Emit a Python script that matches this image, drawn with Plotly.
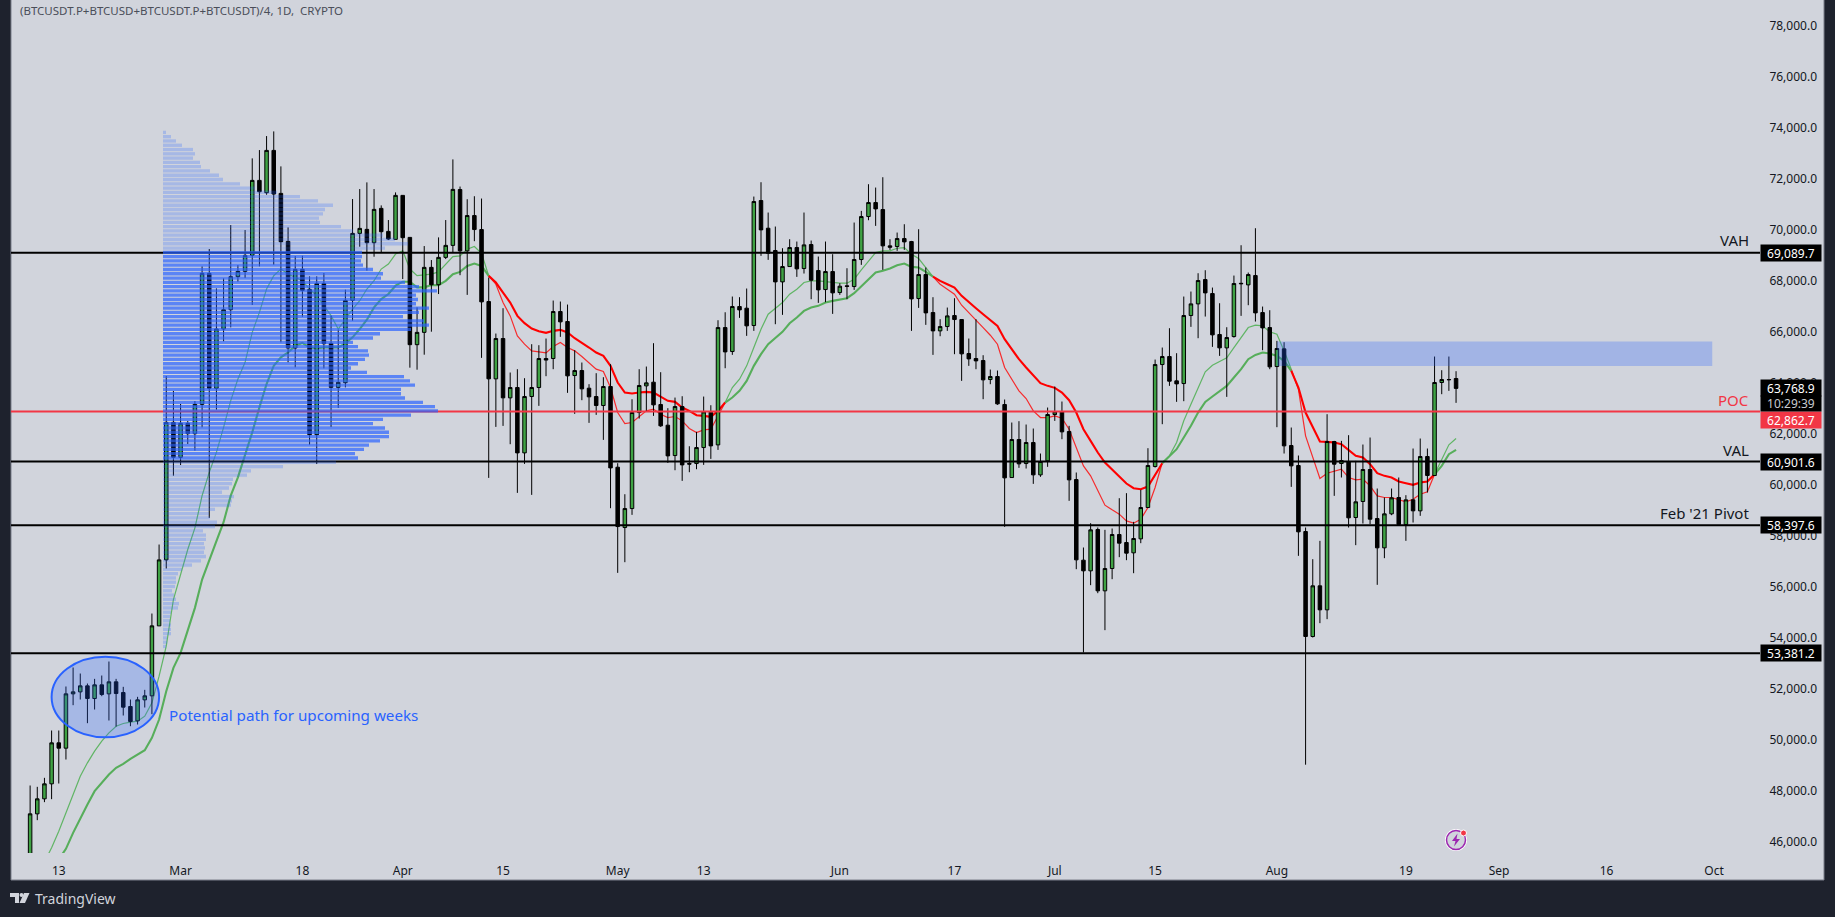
import pandas as pd
import plotly.graph_objects as go

# ---------- data ----------
first_candle = "2024-02-09"
last_candle = "2024-08-26"

opens = [
 45300,47085,47673,48261,49869,49660,51790,51868,52104,51607,52143,51790,52261,51842,51293,50732,51555,51712,54456,57044,62437,
 61065,62398,61993,63143,68279,63770,66097,66855,68149,68358,68985,71926,71442,73102,71416,69534,65352,68436,67652,61953,67887,65535,63809,63993,67221,69848,70005,69482,70828,69926,69613,
 71338,69691,65483,65966,68515,67835,68907,69377,71567,69162,70547,69998,67175,64143,65724,63398,63803,61240,63450,63803,64940,64940,66783,66391,64273,64469,63777,63450,63097,63842,
 60678,58312,59057,62821,63868,64012,63136,62325,61135,63057,60822,60822,61449,62834,61553,66154,65214,66979,66914,66234,71135,70050,69175,67946,68547,69292,68469,69410,68390,67645,68351,
 67528,67790,67763,68822,70508,71057,70782,69358,69332,69645,69527,67292,68233,66743,66024,66194,66626,66469,65136,64940,64861,64116,64234,63136,60273,61763,60822,61646,60378,60927,
 62744,62848,62077,60195,57032,56614,58235,55830,56705,58039,57725,57320,57869,59097,60705,64704,65018,64064,63959,66626,67083,68037,67488,65881,65358,65802,67890,67828,68194,66743,66155,
 64626,65319,61528,60744,58156,54039,56026,55085,61685,60823,60901,58705,59333,60587,58666,57516,58849,59490,58431,59398,58967,61097,60352,64000,64116,64156]
highs = [
 48196,48144,48497,50353,50353,52078,52823,52587,52195,52378,52509,53058,52378,52065,51568,51673,51947,54940,57646,64254,63666,
 63156,62489,63273,68554,69234,67691,68083,70175,68606,69979,72789,73115,73664,73847,72475,70083,68959,68972,68162,68162,68293,66620,66071,67639,71194,71586,71848,71586,70946,70371,71455,
 71351,69704,66946,69351,68802,69691,70371,72749,71684,71187,71305,71214,68116,65920,66914,64391,64522,64169,65502,65463,65724,67214,67175,67057,65267,64783,63934,64365,64208,64718,
 60835,59619,63344,64522,64626,65541,64404,62993,63409,63462,61501,62063,63449,63109,66442,66755,67371,67345,67685,71292,71854,70665,70116,69266,69619,69528,70665,69567,68939,69528,69031,
 67894,68482,70273,70730,71776,71645,72050,69619,69880,70207,69553,70011,68508,67345,66482,66939,67305,66482,65724,66482,65070,64508,64469,63332,62430,62483,62352,62195,61215,63018,
 63842,63254,62300,60470,57529,58483,58313,58222,58274,59463,59660,58535,59790,61424,64900,65371,66129,65149,67371,67567,68285,68403,67723,67109,66168,68194,69383,68312,70050,66978,66835,
 65632,65580,62234,61136,58313,57071,57790,62757,61711,61711,61934,60927,61568,61842,59842,59490,59842,60274,59581,61411,61803,61411,65018,64482,65018,64443]
lows = [
 45200,46837,47543,47660,48274,49215,51346,51568,50640,51176,51699,50745,50509,50941,50522,50588,51255,50993,54456,56705,60346,
 60764,61588,61326,62241,58691,62934,65613,66162,67953,68096,67038,68554,71364,68619,65574,64790,64594,66580,61561,60803,64554,62254,62999,63809,66423,69325,68384,68933,69103,69586,69613,
 68057,64581,64502,65090,65992,67469,68841,69103,68208,67436,69541,64966,60259,62259,62298,61580,59671,60808,59593,63084,64247,64522,65790,63594,62770,63306,62417,62731,61749,59070,
 56535,56953,58809,62586,62875,62691,62259,60848,60560,60142,60482,60599,60769,61004,61357,64560,65084,66534,65829,66025,68966,68809,66286,66652,68547,68142,68273,67266,67123,67149,66691,
 67436,67266,67632,68613,70364,70142,68417,69201,69162,69200,66024,66926,66260,65083,65815,66024,65110,64064,64652,64521,63345,63933,63123,58340,60273,60653,60626,60025,60300,60692,
 62495,61776,59359,56679,53412,56052,55738,54288,56287,57150,57032,56522,57699,59097,60666,62365,63868,63241,63267,66181,65737,66586,65397,65044,63437,65760,66613,67031,66390,65266,64521,
 62247,61215,59907,57202,49012,54000,54562,54719,59555,60274,58313,57621,58470,58444,56065,57111,58797,58418,57790,58509,58771,59686,60340,63541,63672,63202]
closes = [
 47085,47673,48261,49869,49660,51790,51868,52104,51607,52143,51764,52261,51803,51268,50706,51555,51712,54456,57044,62437,61065,
 62398,61993,63143,68279,63770,66097,66855,68149,68358,68985,71926,71481,73102,71390,69521,65352,68436,67613,61953,67887,65522,63809,64006,67221,69848,70044,69482,70789,69913,69626,71338,
 69678,65483,65966,68515,67835,68907,69377,71573,69162,70547,69998,67162,64143,65724,63398,63803,61240,63450,63803,64940,64880,66783,66378,64260,64469,63751,63437,63097,63842,60651,
 58351,59057,62821,63881,63986,63123,62300,61122,63057,60769,60800,61449,62847,61514,66154,65200,66979,66848,66221,71096,69985,69070,67946,68547,69292,68456,69397,68011,67632,68351,67515,
 67776,67770,68822,70508,71057,70808,69358,69305,69645,69514,67279,68233,66730,66024,66194,66612,66469,65123,64926,64848,64103,64234,63162,60260,61763,60809,61646,60378,60901,62744,
 62848,62064,60182,57045,56614,58222,55830,56705,58039,57699,57307,57882,59097,60744,64704,65018,64051,63946,66626,67083,67998,67514,65868,65358,65763,67880,67875,68233,66730,66142,64613,
 65332,61515,60731,58143,54039,56026,55085,61685,60796,60940,58692,59320,60587,58640,57516,58849,59477,58431,59398,58967,61097,60352,64000,64116,64110,63769]

fast_start = "2024-02-11"
fast_ema = [
 45200,45752,46405,47124,47908,48562,49085,49542,49934,50261,50522,50627,50679,50718,50915,51437,52483,53659,55489,
 56469,57450,58300,59560,60476,61261,62241,63287,64136,64790,65966,66750,67665,68188,68449,68253,68122,67992,67665,67404,67012,66620,66097,66489,66881,67208,67665,67992,68449,68646,69037,
 69168,68449,68188,68214,68253,68338,68639,68939,68966,69227,69332,69070,68181,67855,67136,66613,65829,65502,65241,65201,65162,65410,65567,65371,65241,65018,64783,64522,64430,63803,
 62823,62391,62431,62666,62888,62953,62757,62627,62666,62496,62195,62038,62143,62169,62692,63215,63803,64130,64653,65371,66090,66678,66900,67136,67463,67659,67920,67985,67985,67946,67920,
 67894,67894,68051,68417,68769,69096,69162,69162,69266,69292,69030,68860,68508,68155,67854,67658,67462,67031,66743,66482,66155,65854,65502,64587,64130,63672,63371,62887,62626,62626,
 62691,62600,62169,61450,60731,60339,59751,59189,59006,58836,58574,58483,58640,59097,59882,60862,61123,61646,62497,63149,63802,64417,64678,64809,64966,65371,65763,66155,66247,66220,65985,
 65894,65240,64521,63737,61907,61058,60234,60444,60535,60600,60274,60182,60208,59947,59555,59490,59490,59398,59320,59424,59620,59712,60404,60966,61555,61803]
slow_start = "2024-02-13"
slow_ema = [
 45300,45713,46340,46928,47451,47974,48300,48627,48889,49046,49242,49412,49582,50065,50784,51895,52810,
 53398,54247,55162,56273,57057,57776,58521,59562,60281,61130,62045,63025,63940,64659,64986,65182,65443,65548,65378,65339,65378,65378,65378,65535,65770,66097,66463,66946,67273,67469,67796,
 67953,67953,67731,67731,67822,67815,67985,68247,68338,68573,68665,68573,68181,67920,67528,67136,66613,66325,66116,66012,65946,66025,66064,65959,65737,65567,65372,65175,65045,64652,
 63999,63607,63568,63607,63633,63607,63450,63280,63241,63018,62888,62718,62692,62653,62888,63215,63411,63672,64064,64652,65110,65502,65737,65986,66325,66548,66809,66940,67005,67136,67201,
 67240,67306,67502,67763,68051,68312,68378,68469,68599,68665,68534,68508,68338,68155,67985,67854,67723,67397,67135,66913,66678,66456,66220,65698,65306,64913,64587,64260,63972,63868,
 63790,63607,63306,62822,62169,61711,61254,60862,60600,60339,60038,59855,59816,59920,60404,60836,61123,61385,61842,62300,62822,63240,63450,63672,63868,64195,64521,64913,65083,65175,65136,
 65044,64848,64456,63803,62822,62234,61685,61672,61646,61581,61359,61123,61058,60796,60444,60339,60274,60117,60052,59986,60078,60117,60404,60731,61189,61359]
trend_switches = ["2024-04-13", "2024-05-16", "2024-06-14", "2024-07-16", "2024-08-03", "2024-08-23"]

vp_top_price = 73808
vp_row_size = 168
vp_upper = [3,8,13,19,30,32,30,37,38,47,56,60,77,92,114,137,155,170,162,160,156,157,178,190,220,232,245,222]
vp_value_area = [199,199,198,200,210,220,218,242,256,274,253,255,253,266,256,240,261,266,248,217,210,
                 190,195,205,206,202,195,188,204,241,247,252,238,238,242,260,272,275,248,220,210,
                 222,226,226,217,206,201,192,195]
vp_lower = [173,120,88,84,70,69,66,59,71,69,68,52,46,47,54,52,40,43,43,41,42,41,43,38,29,19,15,13,13,12,9,11,13,16,15,8,7,7,8,8,8,4,4,3]

level_prices = [69089.7, 62862.7, 60901.6, 58397.6, 53381.2]
level_names = ["VAH", "POC", "VAL", "Feb '21 Pivot", ""]
level_labels = ["69,089.7", "62,862.7", "60,901.6", "58,397.6", "53,381.2"]
last_price = "63,768.9"
last_price_value = 63768.9
countdown = "10:29:39"

price_ticks = [46000,48000,50000,52000,54000,56000,58000,60000,62000,64000,66000,68000,70000,72000,74000,76000,78000]
date_ticks = ["2024-02-13","2024-03-01","2024-03-18","2024-04-01","2024-04-15","2024-05-01","2024-05-13","2024-06-01",
              "2024-06-17","2024-07-01","2024-07-15","2024-08-01","2024-08-19","2024-09-01","2024-09-16","2024-10-01"]
date_labels = ["13","Mar","18","Apr","15","May","13","Jun","17","Jul","15","Aug","19","Sep","16","Oct"]

title_text = "(BTCUSDT.P+BTCUSD+BTCUSDT.P+BTCUSDT)/4, 1D,  CRYPTO"
note_text = "Potential path for upcoming weeks"

# ---------- style ----------
FONT = "Noto Sans"
BG = "#d1d4dc"
DARK = "#1e222d"
TEXT = "#131722"
GREEN = "#3fa244"
BW, BH = 1835, 917
L, R, T, B = 11, 1760, 0, 853
XR = ["2024-02-06 08:00", "2024-10-07 10:00"]
YR = [45549, 79000]


def X(px):
    return (px - L) / (R - L)


def Y(py):
    return (B - py) / (B - T)


fig = go.Figure()

# moving averages sit under the candles
dates = pd.date_range(first_candle, last_candle)
sw = [pd.Timestamp(s) for s in trend_switches]
for start, vals, width, cg, cr in [
    (fast_start, fast_ema, 1.2, "rgba(76,175,80,0.85)", "rgba(255,0,0,0.8)"),
    (slow_start, slow_ema, 2.1, "#57ae5b", "#ff0000"),
]:
    s = pd.Series(vals, index=pd.date_range(start, periods=len(vals)))
    edges = [s.index[0]] + sw + [s.index[-1]]
    for i in range(len(edges) - 1):
        part = s[edges[i]:edges[i + 1]]
        fig.add_trace(go.Scatter(x=part.index, y=part.values, mode="lines", hoverinfo="skip",
                                 line=dict(color=cr if i % 2 else cg, width=width)))

fig.add_trace(go.Candlestick(
    x=dates, open=opens, high=highs, low=lows, close=closes, xaxis="x2", yaxis="y2", hoverinfo="skip",
    increasing=dict(line=dict(color="#000000", width=1), fillcolor=GREEN),
    decreasing=dict(line=dict(color="#000000", width=1), fillcolor="#000000"),
))

for price, name in zip(level_prices, level_names):
    fig.add_trace(go.Scatter(x=XR, y=[price, price], mode="lines", xaxis="x2", yaxis="y2", hoverinfo="skip",
                             line=dict(color="#f23645" if name == "POC" else "#000000", width=2)))

vp = vp_upper + vp_value_area + vp_lower
vp_y = [vp_top_price - vp_row_size * i for i in range(len(vp))]
vp_c = (["rgba(41,98,255,0.25)"] * len(vp_upper) + ["rgba(41,98,255,0.7)"] * len(vp_value_area)
        + ["rgba(41,98,255,0.25)"] * len(vp_lower))
fig.add_trace(go.Bar(y=vp_y, x=vp, orientation="h", xaxis="x3", yaxis="y3", width=130, hoverinfo="skip",
                     marker=dict(color=vp_c, line=dict(width=0))))

shapes = [
    dict(type="rect", xref="paper", yref="paper", layer="below", x0=X(11), x1=X(1824), y0=Y(880), y1=Y(-3),
         fillcolor=BG, line=dict(color="#7b7f8b", width=1)),
    dict(type="rect", xref="x", yref="y", x0="2024-08-01", x1="2024-09-30 18:00", y0=64646, y1=65603,
         fillcolor="rgba(41,98,255,0.28)", line=dict(width=0)),
    dict(type="circle", xref="x", yref="y", x0="2024-02-12", x1="2024-02-27", y0=50086, y1=53247,
         fillcolor="rgba(41,98,255,0.25)", line=dict(color="#2962ff", width=2)),
    # TradingView mark
    dict(type="path", xref="paper", yref="paper", fillcolor=BG, line=dict(width=0),
         path=f"M{X(10)},{Y(893)} L{X(19)},{Y(893)} L{X(19)},{Y(903)} L{X(15)},{Y(903)} L{X(15)},{Y(897)} L{X(10)},{Y(897)} Z"),
    dict(type="circle", xref="paper", yref="paper", fillcolor=BG, line=dict(width=0),
         x0=X(19.5), x1=X(23.5), y0=Y(897), y1=Y(893)),
    dict(type="path", xref="paper", yref="paper", fillcolor=BG, line=dict(width=0),
         path=f"M{X(24)},{Y(893)} L{X(29.5)},{Y(893)} L{X(25)},{Y(903)} L{X(19.5)},{Y(903)} Z"),
    # flash icon
    dict(type="circle", xref="paper", yref="paper", fillcolor="#ffffff", line=dict(width=0),
         x0=X(1445), x1=X(1467), y0=Y(851), y1=Y(829)),
    dict(type="circle", xref="paper", yref="paper", fillcolor=BG, line=dict(color="#9c27b0", width=1.5),
         x0=X(1446.5), x1=X(1465.5), y0=Y(849.5), y1=Y(830.5)),
    dict(type="path", xref="paper", yref="paper", fillcolor="#9c27b0", line=dict(width=0),
         path=f"M{X(1457.5)},{Y(833.5)} L{X(1452)},{Y(841)} L{X(1455.5)},{Y(841)} L{X(1454)},{Y(846.5)} L{X(1460)},{Y(839)} L{X(1456.5)},{Y(839)} Z"),
    dict(type="circle", xref="paper", yref="paper", fillcolor="#f23645", line=dict(color="#ffffff", width=1),
         x0=X(1460.5), x1=X(1466.5), y0=Y(836), y1=Y(830)),
]

ann = []
shift = {"VAH": 12.5, "POC": 11.5, "VAL": 11.5, "Feb '21 Pivot": 12.5}
for price, name, lab in zip(level_prices, level_names, level_labels):
    poc = name == "POC"
    if name:
        ann.append(dict(xref="paper", yref="y", x=X(1751), y=price, yshift=shift[name], xanchor="right", yanchor="middle",
                        text=name, showarrow=False,
                        font=dict(family=FONT, size=15, color="#f23645" if poc else TEXT)))
    ann.append(dict(xref="paper", yref="y", x=1, y=price, yshift=-8.5 if poc else 0, xanchor="left", yanchor="middle",
                    text=lab, showarrow=False, width=60, height=16, borderpad=0,
                    bgcolor="#f23645" if poc else "#000000", font=dict(family=FONT, size=12, color="#ffffff")))
ann.append(dict(xref="paper", yref="y", x=1, y=last_price_value, xanchor="left", yanchor="middle", text=last_price,
                showarrow=False, width=60, height=16, borderpad=0, bgcolor="#000000",
                font=dict(family=FONT, size=12, color="#ffffff")))
ann.append(dict(xref="paper", yref="y", x=1, y=last_price_value, yshift=-15.5, xanchor="left", yanchor="middle", text=countdown,
                showarrow=False, width=60, height=15, borderpad=0, bgcolor="#000000",
                font=dict(family=FONT, size=12, color="#c8cad0")))
ann.append(dict(xref="paper", yref="paper", x=X(18), y=Y(10.5), xanchor="left", yanchor="middle", text=title_text,
                showarrow=False, font=dict(family=FONT, size=11.5, color="#4a4e59")))
ann.append(dict(xref="paper", yref="paper", x=X(167), y=Y(714.5), xanchor="left", yanchor="middle", text=note_text,
                showarrow=False, font=dict(family=FONT, size=15.2, color="#2962ff")))
ann.append(dict(xref="paper", yref="paper", x=X(33), y=Y(898.5), xanchor="left", yanchor="middle", text="TradingView",
                showarrow=False, font=dict(family=FONT, size=14, color=BG)))

hidden = dict(visible=False, fixedrange=True)
fig.update_layout(
    width=BW, height=BH, showlegend=False, hovermode=False, dragmode=False,
    paper_bgcolor=DARK, plot_bgcolor="rgba(0,0,0,0)",
    margin=dict(l=L, r=BW - R, t=T, b=BH - B, pad=0), boxgap=0.3,
    xaxis=dict(type="date", range=XR, tickmode="array", tickvals=date_ticks, ticktext=date_labels,
               showgrid=False, zeroline=False, showline=False, ticks="outside", ticklen=7,
               tickcolor="rgba(0,0,0,0)", tickfont=dict(family=FONT, size=12, color=TEXT), tickangle=0,
               rangeslider=dict(visible=False), fixedrange=True),
    yaxis=dict(side="right", range=YR, tickmode="array", tickvals=price_ticks, tickformat=",.1f",
               showgrid=False, zeroline=False, showline=False, ticks="outside", ticklen=6,
               tickcolor="rgba(0,0,0,0)", tickfont=dict(family=FONT, size=12, color=TEXT), fixedrange=True),
    xaxis2=dict(type="date", range=XR, overlaying="x", anchor="y2", rangeslider=dict(visible=False), **hidden),
    yaxis2=dict(range=YR, overlaying="y", anchor="x2", side="right", **hidden),
    xaxis3=dict(range=[-152, 1597], overlaying="x", anchor="y3", **hidden),
    yaxis3=dict(range=YR, overlaying="y", anchor="x3", side="right", **hidden),
    shapes=shapes, annotations=ann,
)

fig.write_html("out.html", config={"displayModeBar": False},
               post_script="document.body.style.margin='0';document.body.style.overflow='hidden';document.body.style.background='#1e222d';")
